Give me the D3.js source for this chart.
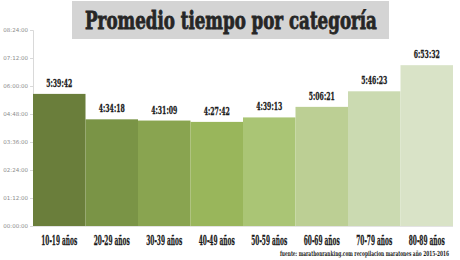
<!DOCTYPE html>
<html>
<head>
<meta charset="utf-8">
<script src="https://cdn.jsdelivr.net/npm/d3@7"></script>
<style>
  body { margin: 0; background: #fff; }
  svg { display: block; }
</style>
</head>
<body>
<svg width="460" height="260"></svg>
<script>
var categories = ["10-19 años", "20-29 años", "30-39 años", "40-49 años", "50-59 años", "60-69 años", "70-79 años", "80-89 años"];
var tiempos = ["5:39:42", "4:34:18", "4:31:09", "4:27:42", "4:39:13", "5:06:21", "5:46:23", "6:53:32"];
var colores = ["#6a7e3b", "#7a9446", "#89a450", "#99b65b", "#aac575", "#bccf94", "#cbdab1", "#d9e3c7"];
var tickLabels = ["00:00:00", "01:12:00", "02:24:00", "03:36:00", "04:48:00", "06:00:00", "07:12:00", "08:24:00"];
var titulo = "Promedio tiempo por categoría";
var fuente = "fuente: marathonranking.com recopilacion maratones año 2015-2016";

function toSec(s) {
  var p = s.split(":").map(Number);
  return p[0]*3600 + p[1]*60 + (p[2] || 0);
}

var data = categories.map(function(c, i) { return {cat: c, t: tiempos[i], s: toSec(tiempos[i]), color: colores[i]}; });

var svg = d3.select("svg");
var condensed = "'DejaVu Serif Condensed', 'DejaVu Serif', 'Liberation Serif', serif";

var x = d3.scaleBand().domain(categories).range([33, 453]).padding(0);
var y = d3.scaleLinear().domain([0, toSec(tickLabels[tickLabels.length - 1])]).range([226, 30]);

// squeeze a text horizontally to a given width (fake condensed font)
function squeeze(sel, w) {
  sel.each(function() {
    var t = d3.select(this);
    var tx = +t.attr("x"), ty = +t.attr("y");
    var len = this.getComputedTextLength();
    t.attr("x", 0).attr("y", 0)
     .attr("transform", "translate(" + tx + "," + ty + ") scale(" + (w / len) + ",1)");
  });
}

// title box
svg.append("rect")
  .attr("x", 72).attr("y", 1)
  .attr("width", 317).attr("height", 38)
  .attr("fill", "#d4d4d4");
svg.append("text")
  .attr("x", 231).attr("y", 29)
  .attr("text-anchor", "middle")
  .style("font-family", condensed)
  .style("font-weight", "bold")
  .style("font-size", "25px")
  .attr("fill", "#262626")
  .attr("stroke", "#262626").attr("stroke-width", 0.8)
  .text(titulo)
  .call(squeeze, 292);

// y axis
var yAxis = d3.axisLeft(y)
  .tickValues(tickLabels.map(toSec))
  .tickFormat(function(d, i) { return tickLabels[i]; })
  .tickSize(3).tickPadding(2);
var ga = svg.append("g").attr("transform", "translate(33,0)").call(yAxis);
ga.select(".domain").attr("stroke", "#d9d9d9");
ga.selectAll(".tick line").attr("stroke", "#d9d9d9");
ga.selectAll(".tick text")
  .attr("fill", "#8c8c8c")
  .style("font-family", "'DejaVu Sans', sans-serif")
  .style("font-size", "5.5px");

// bars
svg.selectAll(".bar")
  .data(data)
  .enter().append("rect")
  .attr("class", "bar")
  .attr("x", function(d) { return x(d.cat); })
  .attr("y", function(d) { return y(d.s); })
  .attr("width", x.bandwidth())
  .attr("height", function(d) { return y(0) - y(d.s); })
  .attr("fill", function(d) { return d.color; });

// x axis line
svg.append("line")
  .attr("x1", 33).attr("x2", 453)
  .attr("y1", y(0) + 0.5).attr("y2", y(0) + 0.5)
  .attr("stroke", "#e3e3e3");

// value labels
svg.selectAll(".val")
  .data(data)
  .enter().append("text")
  .attr("class", "val")
  .attr("x", function(d) { return x(d.cat) + x.bandwidth() / 2; })
  .attr("y", function(d) { return y(d.s) - 7; })
  .attr("text-anchor", "middle")
  .style("font-family", condensed)
  .style("font-weight", "bold")
  .style("font-size", "11.5px")
  .attr("fill", "#1a1a1a")
  .attr("stroke", "#1a1a1a").attr("stroke-width", 0.3)
  .text(function(d) { return d.t; })
  .call(squeeze, 26);

// category labels
svg.selectAll(".cat")
  .data(data)
  .enter().append("text")
  .attr("class", "cat")
  .attr("x", function(d) { return x(d.cat) + x.bandwidth() / 2; })
  .attr("y", 245)
  .attr("text-anchor", "middle")
  .style("font-family", condensed)
  .style("font-weight", "bold")
  .style("font-size", "13px")
  .attr("fill", "#1a1a1a")
  .attr("stroke", "#1a1a1a").attr("stroke-width", 0.3)
  .text(function(d) { return d.cat; })
  .call(squeeze, 36);

// source
svg.append("text")
  .attr("x", 449).attr("y", 256)
  .attr("text-anchor", "end")
  .style("font-family", condensed)
  .style("font-weight", "bold")
  .style("font-size", "7px")
  .attr("fill", "#1a1a1a")
  .text(fuente)
  .call(squeeze, 169);
</script>
</body>
</html>
